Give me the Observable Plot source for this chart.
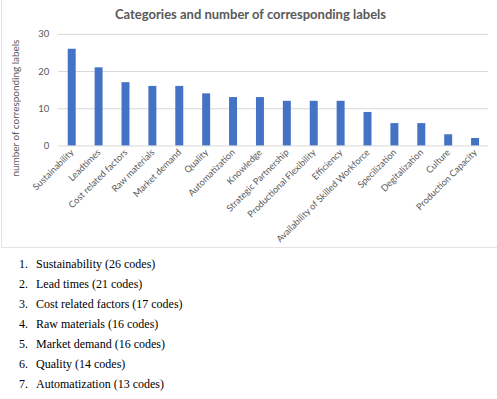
<!DOCTYPE html>
<html>
<head>
<meta charset="utf-8">
<script src="https://cdn.jsdelivr.net/npm/d3@7"></script>
<script src="https://cdn.jsdelivr.net/npm/@observablehq/plot@0.6"></script>
<style>
  html, body { margin: 0; padding: 0; background: #fff; }
  #chart {
    position: relative;
    width: 495px;
    height: 247px;
    margin-left: 1px;
    border-left: 1px solid #e3e3e3;
    border-bottom: 1px solid #e3e3e3;
  }
  #chart svg { position: absolute; left: -2px; top: 0; overflow: visible; }
  #title {
    position: absolute; left: 0; top: 6px; width: 497px; text-align: center;
    font-family: Lato, sans-serif; font-weight: bold; font-size: 13px; color: #595959;
  }
  #list {
    font-family: "Liberation Serif", "DejaVu Serif", serif;
    font-size: 12px; color: #000;
    padding-top: 6px;
  }
  .item { display: flex; height: 20px; line-height: 20px; white-space: nowrap; }
  .num { display: inline-block; width: 17px; margin-left: 19px; }
</style>
</head>
<body>
<div id="chart"><div id="title"></div></div>
<div id="list"></div>
<script>
// Category counts shown in the bar chart
const categories = [
  "Sustainability", "Leadtimes", "Cost related factors", "Raw materials",
  "Market demand", "Quality", "Automatization", "Knowledge",
  "Strategic Partnership", "Productional Flexibility", "Efficiency",
  "Availability of Skilled Workforce", "Specilization", "Degitalization",
  "Culture", "Production Capacity"
];
const counts = [26, 21, 17, 16, 16, 14, 13, 13, 12, 12, 12, 9, 6, 6, 3, 2];
const yTicks = [0, 10, 20, 30];

// Names used in the numbered list below the chart
const listNames = [
  "Sustainability", "Lead times", "Cost related factors", "Raw materials",
  "Market demand", "Quality", "Automatization"
];
const listCounts = [26, 21, 17, 16, 16, 14, 13];

const titleText = "Categories and number of corresponding labels";
const yLabel = "number of corresponding labels";

const data = categories.map((c, i) => ({category: c, count: counts[i]}));

document.getElementById("title").textContent = titleText;

const plot = Plot.plot({
  width: 497,
  height: 248,
  marginLeft: 58,
  marginRight: 7,
  marginTop: 34,
  marginBottom: 102,
  style: {fontFamily: "Lato, sans-serif", color: "#595959", background: "transparent"},
  x: {domain: categories, paddingInner: 0.72, paddingOuter: 0.36, label: null},
  y: {domain: [0, 30], ticks: yTicks, label: null},
  marks: [
    Plot.gridY(yTicks, {stroke: "#d9d9d9", strokeOpacity: 1, strokeWidth: 1}),
    Plot.barY(data, {x: "category", y: "count", fill: "#4472c4"}),
    Plot.axisY(yTicks, {tickSize: 0, tickPadding: 9, fontSize: 9.5, fill: "#595959"}),
    Plot.axisX({tickSize: 0, tickPadding: 5, tickRotate: -45, fontSize: 9.2, fill: "#595959", label: null}),
    Plot.text([yLabel], {
      frameAnchor: "left", dx: -43, dy: 18, rotate: -90,
      fontSize: 10, fill: "#595959", textAnchor: "middle"
    })
  ]
});
document.getElementById("chart").appendChild(plot);

const list = document.getElementById("list");
listNames.forEach((name, i) => {
  const row = document.createElement("div");
  row.className = "item";
  const n = document.createElement("span");
  n.className = "num";
  n.textContent = (i + 1) + ".";
  const t = document.createElement("span");
  t.textContent = `${name} (${listCounts[i]} codes)`;
  row.appendChild(n);
  row.appendChild(t);
  list.appendChild(row);
});
</script>
</body>
</html>
